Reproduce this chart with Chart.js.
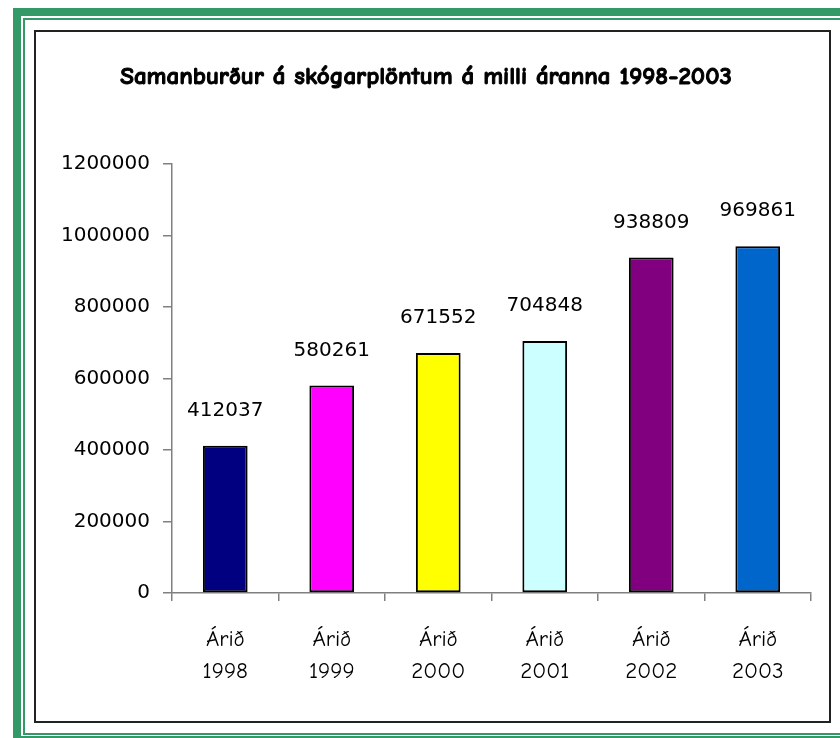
<!DOCTYPE html>
<html>
<head>
<meta charset="utf-8">
<script src="https://cdn.jsdelivr.net/npm/chart.js@4/dist/chart.umd.min.js"></script>
<style>
html,body{margin:0;padding:0;background:#fff;overflow:hidden;}
#wrap{width:840px;height:738px;position:relative;}
</style>
</head>
<body>
<div id="wrap"><canvas id="c" width="840" height="738"></canvas></div>
<script>
const titleText = 'Samanburður á skógarplöntum á milli áranna 1998-2003';
const categories = [['Árið','1998'],['Árið','1999'],['Árið','2000'],['Árið','2001'],['Árið','2002'],['Árið','2003']];
const values = [412037, 580261, 671552, 704848, 938809, 969861];
const barColors = ['#000080','#FF00FF','#FFFF00','#CCFFFF','#800080','#0066CC'];
const yTicks = [0, 200000, 400000, 600000, 800000, 1000000, 1200000];

const comic = "'Comic Sans MS','Comic Neue','DejaVu Sans',sans-serif";
const numFont = "'DejaVu Sans','Verdana',sans-serif";

const framePlugin = {
  id: 'frame',
  beforeDraw(chart) {
    const ctx = chart.ctx;
    ctx.save();
    ctx.fillStyle = '#ffffff';
    ctx.fillRect(0, 0, 840, 738);
    ctx.fillStyle = '#339966';
    ctx.fillRect(13, 8, 827, 730);
    ctx.fillStyle = '#ffffff';
    ctx.fillRect(21, 16, 819, 720);
    ctx.fillStyle = '#339966';
    ctx.fillRect(23, 18, 817, 717);
    ctx.fillStyle = '#ffffff';
    ctx.fillRect(25, 20, 815, 713);
    ctx.strokeStyle = '#222222';
    ctx.lineWidth = 2;
    ctx.strokeRect(35, 31, 795, 691);
    // title (bold look)
    ctx.fillStyle = '#000';
    ctx.strokeStyle = '#000';
    ctx.lineWidth = 1;
    ctx.font = 'bold 25px ' + comic;
    ctx.textAlign = 'center';
    ctx.textBaseline = 'middle';
    ctx.fillText(titleText, 426, 77);
    ctx.strokeText(titleText, 426, 77);
    ctx.restore();
  }
};

const valueLabels = {
  id: 'valueLabels',
  afterDatasetsDraw(chart) {
    const ctx = chart.ctx;
    const meta = chart.getDatasetMeta(0);
    ctx.save();
    ctx.fillStyle = '#000';
    ctx.font = '20px ' + numFont;
    ctx.textAlign = 'center';
    ctx.textBaseline = 'middle';
    meta.data.forEach((bar, i) => {
      ctx.fillText(String(values[i]), bar.x, bar.y - 35);
    });
    ctx.restore();
  }
};

new Chart(document.getElementById('c'), {
  type: 'bar',
  data: {
    labels: categories,
    datasets: [{
      data: values,
      backgroundColor: barColors,
      borderColor: '#000000',
      borderWidth: 2,
      borderSkipped: false,
      barPercentage: 0.42,
      categoryPercentage: 1.0
    }]
  },
  options: {
    responsive: false,
    animation: false,
    devicePixelRatio: 1,
    layout: { padding: { left: 40, right: 29, top: 164, bottom: 0 } },
    plugins: {
      legend: { display: false },
      tooltip: { enabled: false },
      title: { display: false }
    },
    scales: {
      x: {
        offset: true,
        afterFit(scale) { scale.height = 145; },
        grid: { offset: true, drawOnChartArea: false, drawTicks: true, tickLength: 8, color: '#808080', lineWidth: 1.5 },
        border: { color: '#808080', width: 1.5 },
        ticks: { color: '#000', font: { family: comic, size: 23, lineHeight: 1.39 }, padding: 23, maxRotation: 0 }
      },
      y: {
        min: 0,
        max: 1200000,
        afterBuildTicks(scale) { scale.ticks = yTicks.map(v => ({ value: v })); },
        afterFit(scale) { scale.width = 132; },
        grid: { drawOnChartArea: false, drawTicks: true, tickLength: 9, color: '#808080', lineWidth: 1.5 },
        border: { color: '#808080', width: 1.5 },
        ticks: { color: '#000', font: { family: numFont, size: 20 }, padding: 13, callback: (v) => String(v) }
      }
    }
  },
  plugins: [framePlugin, valueLabels]
});
</script>
</body>
</html>
